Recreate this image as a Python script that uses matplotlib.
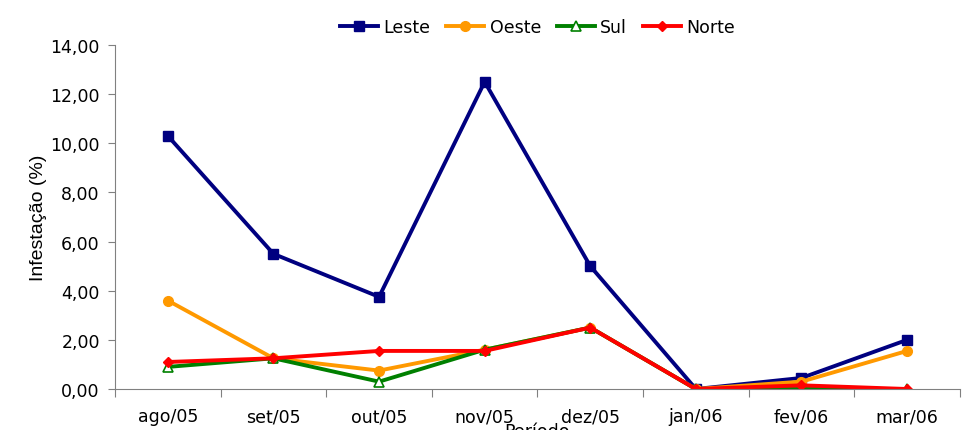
import matplotlib.pyplot as plt
from matplotlib.ticker import FuncFormatter

# dados
periodos = ['ago/05', 'set/05', 'out/05', 'nov/05', 'dez/05', 'jan/06', 'fev/06', 'mar/06']
leste = [10.3, 5.5, 3.75, 12.5, 5.0, 0.0, 0.45, 2.0]
oeste = [3.6, 1.25, 0.75, 1.6, 2.5, 0.0, 0.3, 1.55]
sul = [0.9, 1.25, 0.3, 1.6, 2.5, 0.0, 0.0, 0.0]
norte = [1.1, 1.25, 1.55, 1.55, 2.5, 0.0, 0.15, 0.0]

fig = plt.figure(figsize=(9.79, 4.31), dpi=100)
ax = fig.add_axes([0.1175, 0.0951, 0.863, 0.7982])

x = range(len(periodos))
ax.plot(x, leste, color='#000080', lw=2.8, marker='s', ms=7, label='Leste')
ax.plot(x, oeste, color='#FF9900', lw=2.8, marker='o', ms=7, label='Oeste')
ax.plot(x, sul, color='#008000', lw=2.8, marker='^', ms=7, mfc='white', mec='#008000', mew=1.2, label='Sul')
ax.plot(x, norte, color='#FF0000', lw=2.8, marker='D', ms=5, label='Norte')

ax.set_xlim(-0.5, len(periodos) - 0.5)
ax.set_ylim(0, 14)
ax.set_yticks(range(0, 15, 2))
ax.yaxis.set_major_formatter(FuncFormatter(lambda v, p: '{:.2f}'.format(v).replace('.', ',')))
ax.set_xticks([i + 0.5 for i in range(-1, len(periodos))])
ax.set_xticklabels([])
ax.set_xticks(list(x), minor=True)
ax.set_xticklabels(periodos, minor=True)
ax.tick_params(axis='x', which='minor', length=0, pad=13, labelsize=12.5)
ax.tick_params(axis='x', which='major', length=6, color='#808080', direction='out')
ax.tick_params(axis='y', length=5, color='#808080', labelsize=12.5, pad=6)

for s in ['top', 'right']:
    ax.spines[s].set_visible(False)
for s in ['left', 'bottom']:
    ax.spines[s].set_color('#808080')

ax.set_ylabel('Infestação (%)', fontsize=14, family=['Liberation Sans', 'DejaVu Sans'], labelpad=2)
ax.set_xlabel('Período', fontsize=12.5, labelpad=-2)

ax.legend(loc='upper center', bbox_to_anchor=(0.5, 1.125), ncol=4, frameon=False,
          fontsize=12.5, handlelength=2.2, handletextpad=0.3, columnspacing=0.9)

fig.savefig('out.png', dpi=100)
